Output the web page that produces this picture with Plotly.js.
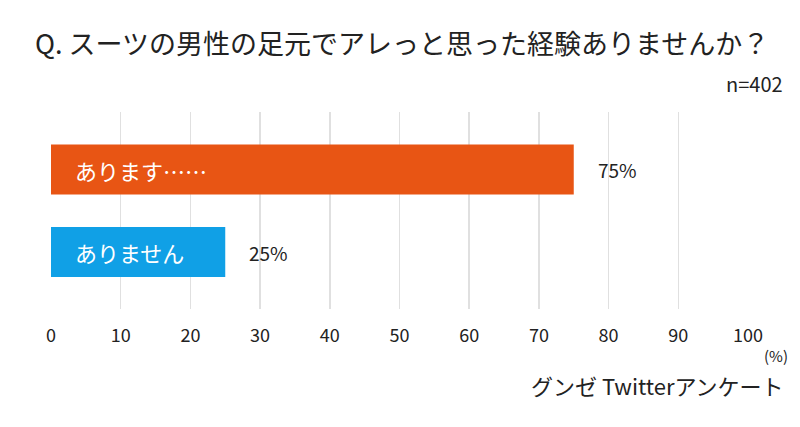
<!DOCTYPE html>
<html>
<head>
<meta charset="utf-8">
<script src="https://cdn.plot.ly/plotly-3.0.1.min.js"></script>
<style>html,body{margin:0;padding:0;background:#fff;}#chart{width:800px;height:427px;}</style>
</head>
<body>
<div id="chart"></div>
<script>
const categories = ["あります……", "ありません"];
const values = [75, 25];
const colors = ["#E85514", "#10A0E6"];
const tickValues = [0, 10, 20, 30, 40, 50, 60, 70, 80, 90, 100];
const titleText = "Q. スーツの男性の足元でアレっと思った経験ありませんか？";
const sampleText = "n=402";
const unitText = "(%)";
const sourceText = "グンゼ Twitterアンケート";

const FONT = "'Noto Sans CJK JP', 'Noto Sans', sans-serif";

const trace = {
  type: "bar",
  orientation: "h",
  y: categories,
  x: values,
  width: 0.606,
  marker: { color: colors },
  hoverinfo: "skip"
};

const annotations = [];
categories.forEach((c, i) => {
  annotations.push({
    x: 0, y: c, xref: "x", yref: "y",
    text: c, showarrow: false, xanchor: "left", xshift: 22,
    font: { family: FONT, size: 22, color: "#ffffff" }
  });
  annotations.push({
    x: values[i], y: c, xref: "x", yref: "y",
    text: values[i] + "%", showarrow: false, xanchor: "left", xshift: 22,
    font: { family: FONT, size: 19, color: "#222" }
  });
});
annotations.push(
  { xref: "paper", yref: "paper", x: 1.053, y: 1.145, xanchor: "right", yanchor: "middle",
    text: sampleText, showarrow: false, font: { family: FONT, size: 20, color: "#222" } },
  { xref: "paper", yref: "paper", x: 1.06, y: -0.235, xanchor: "right", yanchor: "middle",
    text: unitText, showarrow: false, font: { family: FONT, size: 15, color: "#222" } },
  { xref: "paper", yref: "paper", x: 1.055, y: -0.385, xanchor: "right", yanchor: "middle",
    text: sourceText, showarrow: false, font: { family: FONT, size: 22, color: "#222" } }
);

const layout = {
  width: 800, height: 427,
  margin: { l: 51, r: 52, t: 112, b: 118 },
  paper_bgcolor: "#fff", plot_bgcolor: "#fff",
  showlegend: false,
  title: { text: titleText, x: 35/800, xanchor: "left", xref: "container", y: 1 - 45/427, yanchor: "middle", yref: "container",
    font: { family: FONT, size: 27, color: "#222" } },
  xaxis: {
    range: [0, 100], tickvals: tickValues, showgrid: true, gridcolor: "#e0e0e0", gridwidth: 1.5,
    zeroline: false, showline: false, ticks: "", ticklabelstandoff: 14,
    tickfont: { family: FONT, size: 18, color: "#222" }, fixedrange: true
  },
  yaxis: {
    type: "category", range: [1.69, -0.697], showticklabels: false, showgrid: false,
    zeroline: false, showline: false, ticks: "", fixedrange: true
  },
  annotations: annotations
};

Plotly.newPlot("chart", [trace], layout, { displayModeBar: false, staticPlot: true });
</script>
</body>
</html>
